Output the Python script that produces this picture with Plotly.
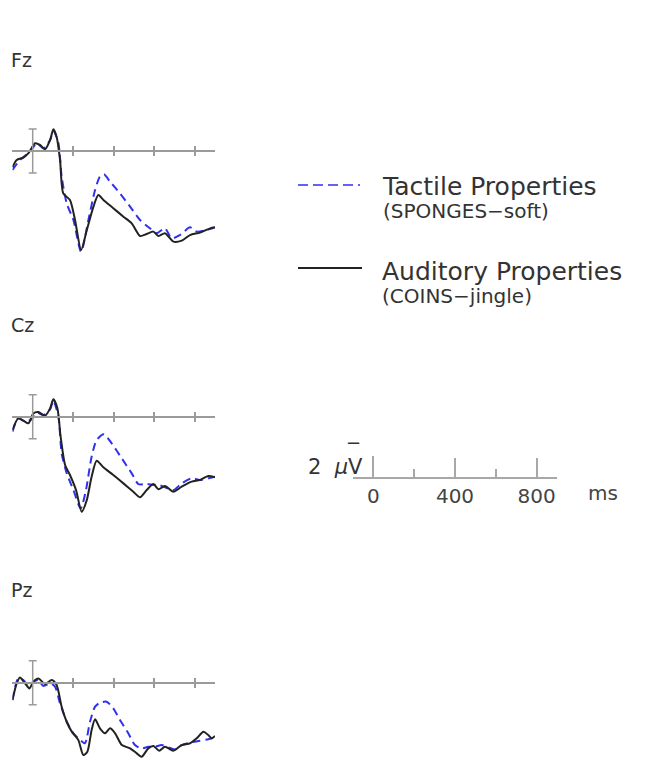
import plotly.graph_objects as go

# ---------------- data (µV, negative plotted up) ----------------
CHANNELS = ["Fz", "Cz", "Pz"]
COND_NAMES = ["Tactile Properties", "Auditory Properties"]
COND_NOTES = ["(SPONGES\u2212soft)", "(COINS\u2212jingle)"]

TIME_RANGE = [-100, 900]
PANEL_TICKS = [200, 400, 600, 800]
SCALE_TICKS = [0, 400, 800]
SCALE_TICK_TEXT = ["0", "400", "800"]
SCALE_MINOR = [200, 600]
CAL_UV = 2

fz_tac_t = [-100, -63, -13, 20, 53, 86, 102, 127, 143, 168, 201, 239, 275, 308, 332, 352, 382, 431, 481, 530, 579, 612, 653, 686, 727, 777, 810, 859, 900]
fz_tac_v = [1.73, 0.82, 0.06, -0.7, -0.24, -1.0, -1.85, -0.7, 2.33, 4.76, 6.27, 9.15, 6.27, 3.55, 2.33, 2.12, 2.79, 3.85, 5.06, 6.27, 7.03, 7.48, 7.03, 7.94, 7.64, 6.94, 7.33, 7.18, 6.94]
fz_aud_t = [-100, -79, -46, -21, 12, 36, 61, 86, 102, 118, 135, 151, 184, 209, 239, 267, 300, 324, 349, 398, 448, 489, 530, 563, 596, 621, 653, 695, 736, 777, 826, 876, 900]
fz_aud_v = [1.48, 0.82, 0.6, 0.2, -0.7, -0.55, -0.15, -1.0, -1.97, -1.3, 0.8, 3.85, 4.45, 6.27, 9.0, 7.2, 5.06, 4.0, 4.45, 5.2, 5.97, 6.58, 7.73, 7.55, 7.33, 7.73, 7.48, 8.24, 8.15, 7.64, 7.42, 7.03, 6.94]

cz_tac_t = [-100, -71, -38, -5, 20, 53, 86, 102, 127, 143, 168, 201, 237, 263, 291, 316, 352, 390, 440, 489, 522, 563, 596, 621, 653, 695, 736, 785, 826, 867, 900]
cz_tac_v = [1.36, 0.15, 0.45, 0.24, -0.36, -0.15, -0.67, -1.45, 0.0, 3.33, 5.15, 6.67, 8.33, 6.67, 3.64, 2.12, 1.6, 2.42, 3.79, 5.15, 6.12, 6.12, 6.2, 6.2, 6.42, 6.67, 6.06, 5.6, 5.76, 5.6, 5.45]
cz_aud_t = [-100, -71, -46, -21, 3, 28, 61, 86, 102, 122, 138, 160, 184, 214, 242, 267, 291, 316, 349, 398, 448, 497, 530, 563, 596, 621, 653, 695, 736, 785, 826, 867, 900]
cz_aud_v = [1.2, 0.15, 0.36, 0.6, -0.3, -0.42, -0.09, -0.76, -1.58, -0.76, 1.82, 4.39, 5.3, 6.67, 8.64, 7.58, 5.45, 4.0, 4.6, 5.3, 6.06, 6.82, 7.33, 6.67, 6.12, 6.6, 6.3, 6.82, 6.36, 5.9, 5.76, 5.39, 5.5]

pz_tac_t = [-100, -71, -46, -21, 3, 28, 53, 86, 110, 135, 168, 201, 234, 258, 283, 308, 332, 365, 398, 431, 472, 505, 538, 571, 604, 637, 670, 703, 736, 777, 826, 867, 900]
pz_tac_v = [1.58, -0.39, -0.24, 0.3, -0.09, -0.24, 0.3, 0.06, 0.36, 1.88, 3.55, 4.6, 5.2, 5.5, 3.55, 2.18, 1.82, 1.73, 2.33, 3.39, 4.6, 5.67, 5.97, 5.82, 5.82, 5.67, 5.88, 6.06, 5.67, 5.45, 5.27, 5.15, 4.97]
pz_aud_t = [-100, -79, -63, -38, -16, 3, 28, 61, 94, 118, 143, 168, 193, 225, 250, 270, 291, 308, 332, 357, 382, 407, 440, 481, 514, 538, 571, 596, 625, 653, 695, 736, 777, 810, 843, 867, 884, 900]
pz_aud_v = [1.58, 0.06, -0.48, 0.06, 0.52, -0.09, -0.39, 0.12, -0.24, 0.21, 2.18, 3.55, 4.45, 5.2, 6.58, 6.27, 4.3, 3.33, 4.15, 4.6, 4.15, 4.6, 5.67, 5.97, 6.42, 6.73, 5.97, 5.76, 6.18, 5.82, 6.18, 5.67, 5.52, 5.06, 4.45, 4.76, 5.06, 4.85]

SERIES = {
    "Fz": [(fz_tac_t, fz_tac_v), (fz_aud_t, fz_aud_v)],
    "Cz": [(cz_tac_t, cz_tac_v), (cz_aud_t, cz_aud_v)],
    "Pz": [(pz_tac_t, pz_tac_v), (pz_aud_t, pz_aud_v)],
}

# ---------------- layout geometry (screen pixels) ----------------
OFF = 8                      # page body margin
W, H = 664 - OFF, 758 - OFF  # figure size
FONT = "DejaVu Sans"
TXT = "#333333"
AX = "#9a9a9a"
BLUE = "#3030f0"
BLACK = "#222222"

def fx(px):
    return (px - OFF) / W

def fy(py):
    return 1 - (py - OFF) / H

PX_PER_MS = 0.2025
PX_PER_UV = 11.0
T0_PX = 32.7
X0_PX = T0_PX + TIME_RANGE[0] * PX_PER_MS
X1_PX = T0_PX + TIME_RANGE[1] * PX_PER_MS
BASELINES = [151.0, 416.7, 682.7]
V_TOP = -4.0
V_BOTTOMS = [11.5, 11.5, (758 - 682.7) / PX_PER_UV]
LABEL_Y = [60, 325, 590]

fig = go.Figure()
layout = {}

for i, ch in enumerate(CHANNELS):
    n = i + 1
    xid = "x" if n == 1 else f"x{n}"
    yid = "y" if n == 1 else f"y{n}"
    ovid = f"x{n + 3}"
    base = BASELINES[i]
    top_px = base + V_TOP * PX_PER_UV
    bot_px = base + V_BOTTOMS[i] * PX_PER_UV

    styles = [dict(color=BLUE, width=2, dash="8px,5px"), dict(color=BLACK, width=2)]
    for k in range(2):
        t, v = SERIES[ch][k]
        fig.add_trace(go.Scatter(
            x=t, y=v, mode="lines", xaxis=xid, yaxis=yid,
            line=dict(shape="spline", smoothing=0.7, **styles[k]),
            name=COND_NAMES[k], showlegend=False, hoverinfo="skip"))

    # calibration bar at stimulus onset (±CAL_UV)
    fig.add_trace(go.Scatter(
        x=[0], y=[0], mode="markers", xaxis=ovid, yaxis=yid,
        marker=dict(size=1, color="rgba(0,0,0,0)"),
        error_y=dict(type="data", array=[CAL_UV], symmetric=True,
                     color=AX, thickness=1.5, width=4),
        showlegend=False, hoverinfo="skip"))

    common = dict(range=TIME_RANGE, anchor="free", position=fy(base),
                  tickmode="array", tickvals=PANEL_TICKS, ticklen=4, tickwidth=2,
                  tickcolor=AX, showticklabels=False, showgrid=False,
                  zeroline=False, fixedrange=True)
    layout["xaxis" if n == 1 else f"xaxis{n}"] = dict(
        domain=[fx(X0_PX), fx(X1_PX)], showline=True, linecolor=AX,
        linewidth=2, ticks="inside", **common)
    layout[f"xaxis{n + 3}"] = dict(overlaying=xid, showline=False,
                                   ticks="outside", **common)
    layout["yaxis" if n == 1 else f"yaxis{n}"] = dict(
        domain=[fy(bot_px), fy(top_px)], range=[V_BOTTOMS[i], V_TOP],
        anchor=xid, visible=False, fixedrange=True)

# ---------------- scale bar ----------------
SB_X0, SB_X1 = 353.0, 557.0
SB_BASE, SB_TOP = 477.3, 456.0
sb_px_per_ms = (SB_X1 - SB_X0) / (TIME_RANGE[1] - TIME_RANGE[0])
sb_zero_px = SB_X0 - TIME_RANGE[0] * sb_px_per_ms
SB_COL = "#a8a8a8"
# empty trace so the scale-bar axes are drawn
fig.add_trace(go.Scatter(x=[], y=[], xaxis="x7", yaxis="y7", mode="lines",
                         showlegend=False, hoverinfo="skip"))
layout["xaxis7"] = dict(
    domain=[fx(SB_X0), fx(SB_X1)], range=TIME_RANGE, anchor="y7",
    showline=True, linecolor=SB_COL, linewidth=1.5,
    tickmode="array", tickvals=SCALE_TICKS, ticktext=SCALE_TICK_TEXT,
    ticks="inside", ticklen=20, tickwidth=1.5, tickcolor=SB_COL,
    tickfont=dict(family=FONT, size=20, color="#444444"),
    minor=dict(tickmode="array", tickvals=SCALE_MINOR, ticks="inside",
               ticklen=9, tickwidth=1.5, tickcolor=SB_COL),
    showgrid=False, zeroline=False, fixedrange=True)
layout["yaxis7"] = dict(
    domain=[fy(SB_BASE), fy(SB_TOP)], range=[0, CAL_UV], anchor="free",
    position=fx(sb_zero_px), showline=True, linecolor=SB_COL, linewidth=1.5,
    tickmode="array", tickvals=[CAL_UV], ticks="inside", ticklen=5,
    tickwidth=1.5, tickcolor=SB_COL, showticklabels=False,
    showgrid=False, zeroline=False, fixedrange=True)

# ---------------- annotations ----------------
ann = []
def text(px, py, s, size, xanchor="left", yanchor="middle", color=TXT):
    ann.append(dict(x=fx(px), y=fy(py), xref="paper", yref="paper", text=s,
                    showarrow=False, xanchor=xanchor, yanchor=yanchor,
                    align="left", font=dict(family=FONT, size=size, color=color)))

for i, ch in enumerate(CHANNELS):
    text(9, LABEL_Y[i], ch, 19)

# legend entries: title line (larger) + note line, one text block each
LEG_TOP_Y = [170, 255]
for k in range(2):
    text(380, LEG_TOP_Y[k],
         f"<span style='font-size:25px'>{COND_NAMES[k]}</span><br>"
         f"<span style='font-size:20px'>{COND_NOTES[k]}</span>",
         17.5, yanchor="top")

text(365, 467, f"{CAL_UV} &nbsp;<i>\u00b5</i>V", 21, xanchor="right")
text(353, 442, "\u2212", 18, xanchor="center")
text(603, 493, "ms", 20, xanchor="center", color="#444444")

shapes = [
    dict(type="line", xref="paper", yref="paper", x0=fx(298), x1=fx(360),
         y0=fy(185), y1=fy(185), line=dict(color=BLUE, width=1.5, dash="10px,5px")),
    dict(type="line", xref="paper", yref="paper", x0=fx(298), x1=fx(362),
         y0=fy(268), y1=fy(268), line=dict(color=BLACK, width=2)),
]

fig.update_layout(
    width=W, height=H, margin=dict(l=0, r=0, t=0, b=0),
    paper_bgcolor="white", plot_bgcolor="rgba(0,0,0,0)",
    showlegend=False, annotations=ann, shapes=shapes, **layout)

fig.write_html("out.html", config={"displayModeBar": False})
